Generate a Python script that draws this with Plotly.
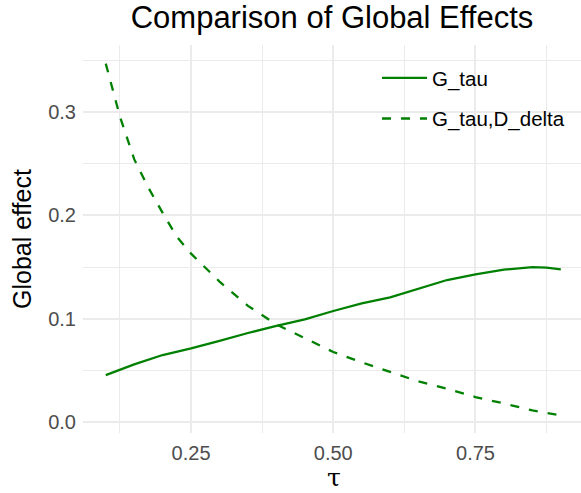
import plotly.graph_objects as go

# ---- data ----
tau_g = [0.1, 0.15, 0.2, 0.25, 0.3, 0.35, 0.4, 0.45, 0.5, 0.55, 0.6, 0.65,
         0.7, 0.75, 0.8, 0.85, 0.875, 0.9]
g_tau = [0.0455, 0.0558, 0.0649, 0.0713, 0.0785, 0.0862, 0.0930, 0.0994,
         0.1075, 0.1148, 0.1207, 0.1292, 0.1375, 0.1430, 0.1475, 0.1500,
         0.1494, 0.1478]

tau_gd = [0.1, 0.125, 0.15, 0.175, 0.2, 0.225, 0.25, 0.3, 0.35, 0.4, 0.45,
          0.5, 0.55, 0.6, 0.65, 0.7, 0.75, 0.8, 0.85, 0.9]
g_tau_d_delta = [0.347, 0.2956, 0.2545, 0.2268, 0.2025, 0.1794, 0.163,
                 0.136, 0.1125, 0.0945, 0.0812, 0.0678, 0.0578, 0.0483,
                 0.0393, 0.0323, 0.0242, 0.0180, 0.0113, 0.0063]

series_names = ["G_tau", "G_tau,D_delta"]
x_ticks = [0.25, 0.50, 0.75]
x_tick_labels = ["0.25", "0.50", "0.75"]
y_ticks = [0.0, 0.1, 0.2, 0.3]
y_tick_labels = ["0.0", "0.1", "0.2", "0.3"]

FONT = "Liberation Sans, Arial, Helvetica, sans-serif"
GREEN = "#008000"
GRID = "#EBEBEB"
W, H = 581, 493
ML, MR, MT, MB = 83, 0, 45, 60

fig = go.Figure()
fig.add_trace(go.Scatter(x=tau_g, y=g_tau, mode="lines", name=series_names[0],
                         legendgroup="a",
                         line=dict(color=GREEN, width=2.3)))
fig.add_trace(go.Scatter(x=tau_gd, y=g_tau_d_delta, mode="lines",
                         name=series_names[1], legendgroup="b",
                         line=dict(color=GREEN, width=2.3, dash="9px,10px")))

pw = W - ML - MR
ph = H - MT - MB

def px_x(p):
    return (p - ML) / pw

def px_y(p):
    return (H - MB - p) / ph

fig.update_layout(
    width=W, height=H,
    margin=dict(l=ML, r=MR, t=MT, b=MB, autoexpand=False),
    paper_bgcolor="white", plot_bgcolor="white",
    font=dict(family=FONT, color="#4D4D4D", size=20),
    title=dict(text="Comparison of Global Effects", x=0.5, xref="paper",
               xanchor="center", y=1 - 17 / H, yref="container",
               yanchor="middle",
               font=dict(family=FONT, size=31, color="black")),
    showlegend=True,
    legend=dict(x=px_x(377), y=px_y(58), xanchor="left", yanchor="top",
                bgcolor="rgba(0,0,0,0)", borderwidth=0,
                font=dict(family=FONT, size=20.5, color="black"),
                itemwidth=45, tracegroupgap=11),
    xaxis=dict(range=[0.06, 0.9355], tickvals=x_ticks, ticktext=x_tick_labels,
               showgrid=True, gridcolor=GRID, gridwidth=2, zeroline=False,
               showline=False, ticks="", ticklabelstandoff=6, automargin=False,
               minor=dict(tick0=0.125, dtick=0.25, showgrid=True,
                          gridcolor=GRID, gridwidth=1)),
    yaxis=dict(range=[-0.0106, 0.365], tickvals=y_ticks, ticktext=y_tick_labels,
               showgrid=True, gridcolor=GRID, gridwidth=2, zeroline=False,
               showline=False, ticks="", ticklabelstandoff=6, automargin=False,
               minor=dict(tick0=0.05, dtick=0.1, showgrid=True,
                          gridcolor=GRID, gridwidth=1)),
    annotations=[
        dict(text="τ", xref="paper", yref="paper", x=px_x(334), y=px_y(477),
             xanchor="center", yanchor="middle", showarrow=False,
             font=dict(family="DejaVu Serif, Liberation Serif, serif",
                       size=25, color="black")),
        dict(text="Global effect", xref="paper", yref="paper",
             x=px_x(22), y=px_y(239), xanchor="center", yanchor="middle",
             textangle=-90, showarrow=False,
             font=dict(family=FONT, size=25, color="black")),
    ],
)

fig.write_html("out.html",
               config={"displayModeBar": False},
               post_script="document.body.style.margin='0';"
                           "document.body.style.padding='0';")
